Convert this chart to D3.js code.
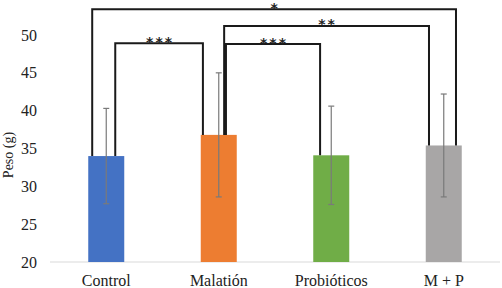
<!DOCTYPE html>
<html>
<head>
<meta charset="utf-8">
<script src="https://cdn.jsdelivr.net/npm/d3@7"></script>
<style>
  body { margin: 0; background: #fff; }
  svg { display: block; }
</style>
</head>
<body>
<svg id="chart"></svg>
<script>
// data
const groups = ["Control", "Malatión", "Probióticos", "M + P"];
const means = [34.0, 36.8, 34.1, 35.4];
const sds = [6.3, 8.2, 6.5, 6.8];
const colors = ["#4472C4", "#ED7D31", "#70AD47", "#A8A6A6"];
const yTicks = [20, 25, 30, 35, 40, 45, 50];

// significance brackets: from/to group, bracket level (g), label
const sigFrom = ["Control", "Control", "Malatión", "Malatión"];
const sigTo = ["M + P", "Malatión", "M + P", "Probióticos"];
const sigLevel = [53.4, 48.9, 51.2, 48.8];
const sigLabel = ["*", "***", "**", "***"];
// leg position inside each bar (fraction of bar width from centre)
const legFrom = [-0.39, 0.25, 0.15, 0.2];
const legTo = [0.34, -0.44, -0.41, -0.31];

const width = 502, height = 288;
const margin = { left: 50, right: 2 };
const serif = "Liberation Serif, DejaVu Serif, serif";

const svg = d3.select("#chart").attr("width", width).attr("height", height);

const x = d3.scaleBand()
    .domain(groups)
    .range([margin.left, width - margin.right])
    .paddingInner(0.68)
    .paddingOuter(0.34);

const y = d3.scaleLinear()
    .domain([20, 50])
    .range([262, 35]);

const cx = g => x(g) + x.bandwidth() / 2;

// baseline
svg.append("line")
    .attr("x1", margin.left).attr("x2", width - margin.right)
    .attr("y1", y(20)).attr("y2", y(20))
    .attr("stroke", "#d9d9d9").attr("stroke-width", 1);

// y axis (labels only)
const yAxis = svg.append("g")
    .attr("transform", `translate(${margin.left},0)`)
    .call(d3.axisLeft(y).tickValues(yTicks).tickSize(0).tickPadding(13));
yAxis.select(".domain").remove();

// x axis (labels only)
const xAxis = svg.append("g")
    .attr("transform", `translate(0,${y(20)})`)
    .call(d3.axisBottom(x).tickSize(0).tickPadding(12.6));
xAxis.select(".domain").remove();

[yAxis, xAxis].forEach(ax => ax
    .attr("font-family", null)
    .attr("font-size", null)
    .selectAll("text")
    .style("font-family", serif)
    .style("font-size", "16px")
    .style("fill", "#222"));

// y label
svg.append("text")
    .attr("transform", `translate(13,${155}) rotate(-90)`)
    .attr("text-anchor", "middle")
    .style("font-family", serif)
    .style("font-size", "14px")
    .style("fill", "#222")
    .text("Peso (g)");

// bars
svg.selectAll("rect.bar")
    .data(groups)
    .enter().append("rect")
    .attr("class", "bar")
    .attr("x", d => x(d))
    .attr("y", (d, i) => y(means[i]))
    .attr("width", x.bandwidth())
    .attr("height", (d, i) => y(20) - y(means[i]))
    .attr("fill", (d, i) => colors[i]);

// significance brackets
sigLabel.forEach((lab, i) => {
    const a = groups.indexOf(sigFrom[i]);
    const b = groups.indexOf(sigTo[i]);
    const x1 = cx(sigFrom[i]) + legFrom[i] * x.bandwidth();
    const x2 = cx(sigTo[i]) + legTo[i] * x.bandwidth();
    const yl = y(sigLevel[i]);
    svg.append("path")
        .attr("d", `M${x1},${y(means[a])}V${yl}H${x2}V${y(means[b])}`)
        .attr("fill", "none")
        .attr("stroke", "#1a1a1a")
        .attr("stroke-width", 2);
    svg.append("text")
        .attr("x", (x1 + x2) / 2 + 1)
        .attr("y", yl + 3.5)
        .attr("text-anchor", "middle")
        .style("font-family", "DejaVu Sans, sans-serif")
        .style("font-size", "14px")
        .style("font-weight", "bold")
        .style("letter-spacing", "2px")
        .style("fill", "#222")
        .text(lab);
});

// error bars
const eb = svg.append("g").attr("stroke", "#7a7a7a").attr("stroke-width", 1.2);
groups.forEach((g, i) => {
    const c = cx(g);
    const top = y(means[i] + sds[i]);
    const bot = y(means[i] - sds[i]);
    eb.append("line").attr("x1", c).attr("x2", c).attr("y1", top).attr("y2", bot);
    eb.append("line").attr("x1", c - 3).attr("x2", c + 3).attr("y1", top).attr("y2", top);
    eb.append("line").attr("x1", c - 3).attr("x2", c + 3).attr("y1", bot).attr("y2", bot);
});
</script>
</body>
</html>
